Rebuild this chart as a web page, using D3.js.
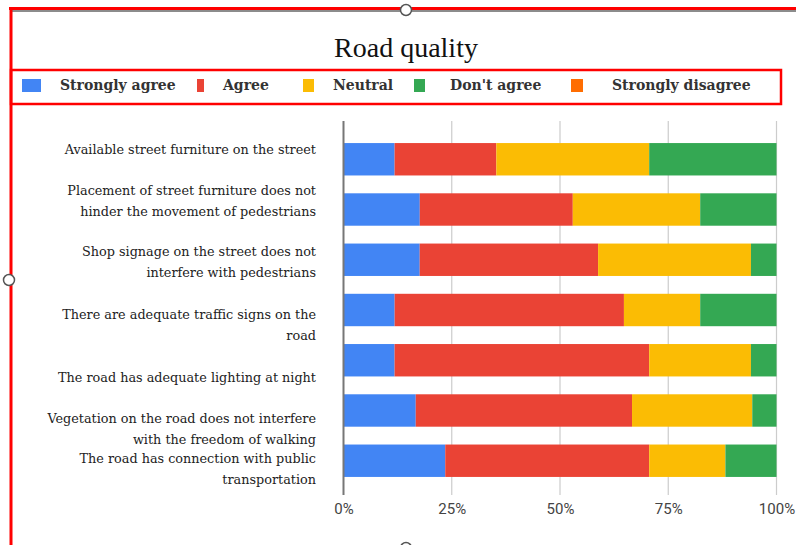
<!DOCTYPE html>
<html>
<head>
<meta charset="utf-8">
<script src="https://cdn.jsdelivr.net/npm/d3@7"></script>
<style>
  html, body { margin: 0; padding: 0; background: #fff; }
  svg { display: block; }
</style>
</head>
<body>
<svg id="chart" width="796" height="545"></svg>
<script>
// ---- data ----
const categories = [
  ["Available street furniture on the street"],
  ["Placement of street furniture does not", "hinder the movement of pedestrians"],
  ["Shop signage on the street does not", "interfere with pedestrians"],
  ["There are adequate traffic signs on the", "road"],
  ["The road has adequate lighting at night"],
  ["Vegetation on the road does not interfere", "with the freedom of walking"],
  ["The road has connection with public", "transportation"]
];
const seriesNames = ["Strongly agree", "Agree", "Neutral", "Don't agree", "Strongly disagree"];
const stronglyAgree    = [11.8, 17.6, 17.6, 11.8, 11.8, 16.7, 23.5];
const agree            = [23.5, 35.3, 41.2, 52.9, 58.8, 50.0, 47.1];
const neutral          = [35.3, 29.4, 35.3, 17.6, 23.5, 27.8, 17.6];
const dontAgree        = [29.4, 17.6,  5.9, 17.6,  5.9,  5.6, 11.8];
const stronglyDisagree = [ 0,    0,    0,    0,    0,    0,    0  ];
const tickValues = [0, 0.25, 0.5, 0.75, 1];
const tickLabels = ["0%", "25%", "50%", "75%", "100%"];
const titleText = "Road quality";

// ---- styles ----
const colors = ["#4285F4", "#EA4335", "#FBBC04", "#34A853", "#FF6D01"];
const labelNudge = [-10, -9, 2, 14, 17, 18, 8];   // visual offset of each category label

const svg = d3.select("#chart");
const W = 796, H = 545;
const margin = {left: 343.5, right: 19.5, top: 121, bottom: 50};
const plotBottom = 495;

const seriesValues = [stronglyAgree, agree, neutral, dontAgree, stronglyDisagree];
const rows = categories.map((c, i) => {
  const o = {idx: i};
  seriesNames.forEach((s, k) => o[s] = seriesValues[k][i]);
  return o;
});
const stack = d3.stack().keys(seriesNames).offset(d3.stackOffsetExpand);
const stacked = stack(rows);

const x = d3.scaleLinear().domain([0, 1]).range([margin.left, W - margin.right]);
const y = d3.scaleBand().domain(d3.range(categories.length))
  .range([130.5, 489.5]).paddingInner(0.355).paddingOuter(0.25);

// gridlines
svg.append("g").selectAll("line").data(tickValues.slice(1)).join("line")
  .attr("x1", d => x(d)).attr("x2", d => x(d))
  .attr("y1", margin.top).attr("y2", plotBottom)
  .attr("stroke", "#cccccc").attr("stroke-width", 1.2);

// bars
svg.append("g").selectAll("g").data(stacked).join("g")
  .attr("fill", (d, i) => colors[i])
  .selectAll("rect").data(d => d).join("rect")
  .attr("x", d => x(d[0]))
  .attr("width", d => Math.max(0, x(d[1]) - x(d[0])))
  .attr("y", (d, i) => y(i))
  .attr("height", y.bandwidth());

// zero axis line
svg.append("line")
  .attr("x1", x(0)).attr("x2", x(0))
  .attr("y1", margin.top).attr("y2", plotBottom)
  .attr("stroke", "#777").attr("stroke-width", 2);

// x axis labels
const xAxis = d3.axisBottom(x).tickValues(tickValues)
  .tickFormat((d, i) => tickLabels[i]).tickSize(0).tickPadding(0);
const gx = svg.append("g").attr("transform", `translate(0, ${plotBottom + 8})`).call(xAxis);
gx.select(".domain").remove();
gx.selectAll("text")
  .attr("font-family", "Roboto, Arial, sans-serif")
  .attr("font-size", 15).attr("fill", "#444");

// category labels
const lab = svg.append("g").selectAll("text").data(categories).join("text")
  .attr("text-anchor", "end")
  .attr("font-family", "'DejaVu Serif', serif")
  .attr("font-size", 12.8).attr("fill", "#222");
lab.each(function(lines, i) {
  const cy = y(i) + y.bandwidth() / 2 + labelNudge[i];
  const lh = 21;
  const t = d3.select(this);
  lines.forEach((ln, j) => {
    t.append("tspan").attr("x", 316)
      .attr("y", cy + (j - (lines.length - 1) / 2) * lh + 5)
      .text(ln);
  });
});

// title
svg.append("text").attr("x", 406).attr("y", 57)
  .attr("text-anchor", "middle")
  .attr("font-family", "'Liberation Serif', 'Times New Roman', serif")
  .attr("font-size", 28).attr("fill", "#111")
  .text(titleText);

// legend box
svg.append("rect").attr("x", 11).attr("y", 70).attr("width", 770).attr("height", 34)
  .attr("fill", "none").attr("stroke", "#ff0000").attr("stroke-width", 2.5);
const legendSw = [[22, 19], [197, 7], [303, 11], [414, 11], [571, 12]];
const legendTx = [60, 223, 333, 450, 612];
const lg = svg.append("g").selectAll("g").data(seriesNames).join("g");
lg.append("rect")
  .attr("x", (d, i) => legendSw[i][0]).attr("y", 79)
  .attr("width", (d, i) => legendSw[i][1]).attr("height", 13)
  .attr("fill", (d, i) => colors[i]);
lg.append("text")
  .attr("x", (d, i) => legendTx[i]).attr("y", 90)
  .attr("font-family", "'DejaVu Serif', serif")
  .attr("font-size", 14).attr("font-weight", "bold").attr("fill", "#333")
  .text(d => d);

// frame (outer red rectangle + gray edge)
svg.append("line").attr("x1", 12).attr("x2", W).attr("y1", 11).attr("y2", 11)
  .attr("stroke", "#666").attr("stroke-width", 1.5);
svg.append("line").attr("x1", 9).attr("x2", W).attr("y1", 8.5).attr("y2", 8.5)
  .attr("stroke", "#ff0000").attr("stroke-width", 3);
svg.append("line").attr("x1", 11).attr("x2", 11).attr("y1", 7).attr("y2", H)
  .attr("stroke", "#ff0000").attr("stroke-width", 3);

// selection handles
const handles = [[406, 10], [9, 280], [406, 548]];
svg.append("g").selectAll("circle").data(handles).join("circle")
  .attr("cx", d => d[0]).attr("cy", d => d[1]).attr("r", 5.5)
  .attr("fill", "#fff").attr("stroke", "#555").attr("stroke-width", 1.5);
</script>
</body>
</html>
